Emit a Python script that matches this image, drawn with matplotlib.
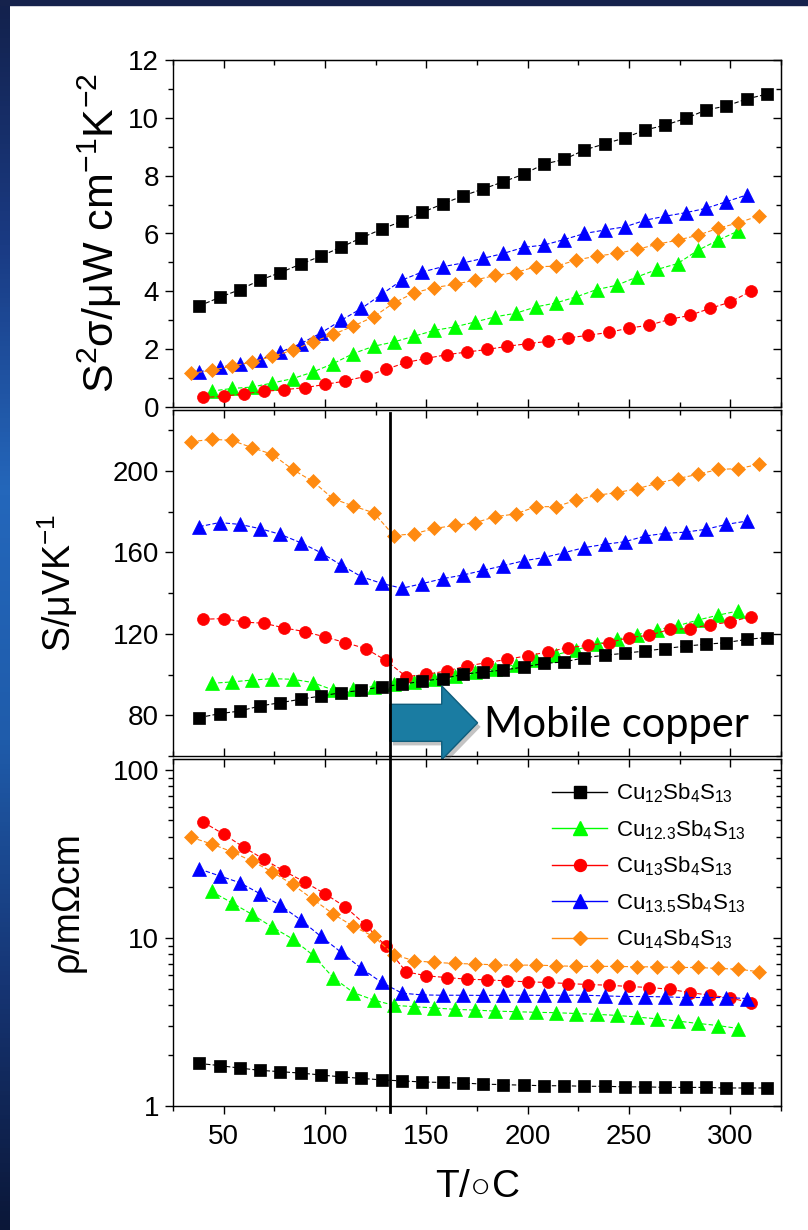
import numpy as np
import matplotlib
matplotlib.use('Agg')
import matplotlib.pyplot as plt
from matplotlib.ticker import MultipleLocator, LogLocator, FuncFormatter, NullFormatter
from matplotlib.patches import FancyArrow, Rectangle
from matplotlib.lines import Line2D
from matplotlib.colors import LinearSegmentedColormap

plt.rcParams['font.family'] = ['Liberation Sans', 'DejaVu Sans']
plt.rcParams['mathtext.fontset'] = 'custom'
plt.rcParams['mathtext.rm'] = 'Liberation Sans'
plt.rcParams['mathtext.it'] = 'Liberation Sans:italic'
plt.rcParams['mathtext.bf'] = 'Liberation Sans:bold'

# temperatures (C) of each sample
t_12 = [38, 48, 58, 68, 78, 88, 98, 108, 118, 128, 138, 148, 158, 168, 178,
        188, 198, 208, 218, 228, 238, 248, 258, 268, 278, 288, 298, 308, 318]
t_123 = [44, 54, 64, 74, 84, 94, 104, 114, 124, 134, 144, 154, 164, 174, 184,
         194, 204, 214, 224, 234, 244, 254, 264, 274, 284, 294, 304]
t_13 = [40, 50, 60, 70, 80, 90, 100, 110, 120, 130, 140, 150, 160, 170, 180,
        190, 200, 210, 220, 230, 240, 250, 260, 270, 280, 290, 300, 310]
t_135 = [38, 48, 58, 68, 78, 88, 98, 108, 118, 128, 138, 148, 158, 168, 178,
         188, 198, 208, 218, 228, 238, 248, 258, 268, 278, 288, 298, 308]
t_14 = [34, 44, 54, 64, 74, 84, 94, 104, 114, 124, 134, 144, 154, 164, 174,
        184, 194, 204, 214, 224, 234, 244, 254, 264, 274, 284, 294, 304, 314]

# power factor S^2 sigma (uW cm-1 K-2)
pf_12 = [3.50, 3.79, 4.06, 4.39, 4.65, 4.94, 5.22, 5.53, 5.85, 6.15, 6.43, 6.73, 7.02, 7.30, 7.54,
         7.79, 8.05, 8.40, 8.56, 8.89, 9.10, 9.31, 9.58, 9.75, 9.98, 10.27, 10.41, 10.65, 10.82]
pf_123 = [0.55, 0.64, 0.69, 0.83, 0.98, 1.21, 1.50, 1.85, 2.10, 2.25, 2.45, 2.65, 2.77, 2.94, 3.12,
          3.24, 3.46, 3.60, 3.81, 4.06, 4.21, 4.50, 4.76, 4.96, 5.42, 5.77, 6.09]
pf_13 = [0.33, 0.37, 0.46, 0.54, 0.60, 0.67, 0.78, 0.90, 1.06, 1.30, 1.54, 1.68, 1.81, 1.90, 1.99,
         2.10, 2.19, 2.27, 2.39, 2.48, 2.58, 2.73, 2.83, 3.03, 3.17, 3.41, 3.63, 4.00]
pf_135 = [1.21, 1.38, 1.48, 1.64, 1.90, 2.19, 2.56, 3.00, 3.41, 3.90, 4.39, 4.67, 4.85, 4.98, 5.14,
          5.31, 5.52, 5.60, 5.79, 6.00, 6.12, 6.23, 6.46, 6.60, 6.72, 6.87, 7.10, 7.33]
pf_14 = [1.16, 1.27, 1.41, 1.56, 1.75, 1.96, 2.25, 2.51, 2.80, 3.12, 3.60, 3.95, 4.13, 4.24, 4.39,
         4.55, 4.65, 4.85, 4.87, 5.08, 5.22, 5.31, 5.45, 5.63, 5.77, 5.94, 6.18, 6.37, 6.61]

# Seebeck coefficient (uV/K)
s_12 = [78.9, 80.8, 82.1, 84.6, 86.2, 87.9, 89.5, 91.1, 92.3, 94.1, 95.2, 96.8, 98.0, 100.1, 101.3,
        102.2, 103.7, 105.5, 106.2, 108.3, 109.5, 110.5, 111.6, 112.8, 114.0, 114.9, 115.7, 117.3, 118.2]
s_123 = [95.7, 96.4, 97.3, 98.0, 97.7, 96.1, 92.4, 93.1, 94.1, 95.2, 96.4, 97.7, 99.3, 101.3, 102.9,
         104.8, 107.0, 109.8, 112.2, 115.0, 117.3, 119.6, 122.0, 124.0, 126.8, 129.2, 131.3]
s_13 = [127.2, 127.5, 125.8, 125.2, 122.9, 121.1, 118.5, 115.7, 112.8, 107.0, 99.0, 100.1, 101.8, 104.2, 105.9,
        107.5, 109.3, 111.1, 113.3, 114.4, 115.7, 118.2, 119.3, 122.2, 122.6, 124.5, 125.8, 128.5]
s_135 = [172.7, 174.7, 173.8, 171.7, 168.9, 164.8, 159.9, 153.8, 148.1, 144.8, 142.4, 144.7, 147.1, 148.9, 151.2,
         153.5, 155.9, 157.5, 159.9, 162.4, 164.0, 165.3, 168.1, 169.4, 170.0, 171.4, 173.8, 175.4]
s_14 = [214.4, 215.6, 215.1, 211.5, 208.2, 200.8, 194.9, 186.4, 182.8, 179.5, 168.3, 169.2, 171.8, 173.3, 174.6,
        177.6, 178.9, 182.5, 182.5, 185.7, 188.1, 189.4, 191.3, 194.0, 196.3, 198.4, 200.8, 201.2, 203.3]

# resistivity (mOhm cm)
rho_12 = [1.79, 1.74, 1.68, 1.63, 1.60, 1.57, 1.53, 1.49, 1.46, 1.43, 1.41, 1.39, 1.38, 1.37, 1.35,
          1.34, 1.33, 1.32, 1.32, 1.31, 1.31, 1.30, 1.30, 1.29, 1.29, 1.29, 1.28, 1.28, 1.28]
rho_123 = [18.9, 16.2, 13.8, 11.6, 9.86, 7.91, 5.81, 4.73, 4.27, 3.97, 3.90, 3.83, 3.76, 3.72, 3.67,
           3.64, 3.61, 3.59, 3.55, 3.51, 3.46, 3.38, 3.30, 3.20, 3.10, 3.01, 2.89]
rho_13 = [48.8, 41.4, 34.6, 29.3, 24.9, 21.5, 18.3, 15.3, 11.96, 8.92, 6.29, 5.95, 5.81, 5.68, 5.63,
          5.55, 5.48, 5.43, 5.35, 5.28, 5.23, 5.14, 5.07, 4.95, 4.73, 4.56, 4.39, 4.12]
rho_135 = [25.7, 23.4, 21.3, 18.3, 15.6, 12.8, 10.2, 8.21, 6.58, 5.43, 4.69, 4.58, 4.56, 4.56, 4.55,
           4.56, 4.56, 4.55, 4.56, 4.56, 4.52, 4.48, 4.48, 4.46, 4.42, 4.42, 4.42, 4.36]
rho_14 = [39.7, 36.2, 32.6, 28.6, 24.7, 20.8, 17.0, 13.9, 11.7, 10.2, 7.95, 7.31, 7.15, 7.05, 6.99,
          6.92, 6.89, 6.89, 6.83, 6.77, 6.77, 6.77, 6.73, 6.73, 6.67, 6.67, 6.58, 6.52, 6.29]

labels = ['Cu$_{12}$Sb$_4$S$_{13}$', 'Cu$_{12.3}$Sb$_4$S$_{13}$', 'Cu$_{13}$Sb$_4$S$_{13}$',
          'Cu$_{13.5}$Sb$_4$S$_{13}$', 'Cu$_{14}$Sb$_4$S$_{13}$']
temps = [t_12, t_123, t_13, t_135, t_14]
pfs = [pf_12, pf_123, pf_13, pf_135, pf_14]
seebeck = [s_12, s_123, s_13, s_135, s_14]
rhos = [rho_12, rho_123, rho_13, rho_135, rho_14]
colors = ['#000000', '#00ff00', '#ff0000', '#0000ff', '#ff8a10']
markers = ['s', '^', 'o', '^', 'D']
msizes = [8, 9.4, 8.6, 9.4, 6.8]
zorders = [5, 3, 3.2, 3.4, 3.6]

T_TRANSITION = 132

fig = plt.figure(figsize=(8.08, 12.30), dpi=100)
W, H = 808, 1230

# slide background strips
strip = fig.add_axes([0, 0, 10 / W, 1])
grad = np.linspace(0, 1, 256).reshape(-1, 1)
slide = LinearSegmentedColormap.from_list('slide', ['#13214c', '#1a3b84', '#2467bb', '#1f5cab', '#163574', '#0b1738'])
strip.imshow(grad, aspect='auto', cmap=slide, extent=[0, 1, 0, 1], origin='upper')
strip.axis('off')
fig.patches.append(Rectangle((0, 1 - 5 / H), 1, 5 / H, transform=fig.transFigure,
                             color='#15224c', zorder=0))


def px_axes(x0, y0, x1, y1):
    return fig.add_axes([x0 / W, 1 - y1 / H, (x1 - x0) / W, (y1 - y0) / H])


ax1 = px_axes(173, 60, 781, 407)
ax2 = px_axes(173, 410, 781, 756)
ax3 = px_axes(173, 759, 781, 1106)

for i in range(5):
    for ax, y in ((ax1, pfs[i]), (ax2, seebeck[i]), (ax3, rhos[i])):
        ax.plot(temps[i], y, color=colors[i], marker=markers[i], ms=msizes[i],
                mec=colors[i], mew=0.5, lw=0.8, ls=(0, (4, 2)), zorder=zorders[i])


def frame(ax, bottom_out):
    ax.set_xlim(25, 325)
    ax.xaxis.set_major_locator(MultipleLocator(50))
    ax.xaxis.set_minor_locator(MultipleLocator(25))
    ax.tick_params(which='both', labelsize=20, width=1, colors='k', pad=4)
    ax.tick_params(axis='y', which='both', direction='out')
    ax.tick_params(axis='x', which='both', direction='out' if bottom_out else 'in')
    ax.tick_params(which='major', length=6)
    ax.tick_params(which='minor', length=3.5)
    for sp in ax.spines.values():
        sp.set_linewidth(1)
    top = ax.secondary_xaxis('top')
    top.xaxis.set_major_locator(MultipleLocator(50))
    top.xaxis.set_minor_locator(MultipleLocator(25))
    top.tick_params(which='both', direction='in', labeltop=False, width=1)
    top.tick_params(which='major', length=6)
    top.tick_params(which='minor', length=3.5)
    return top


frame(ax1, False)
frame(ax2, False)
frame(ax3, True)
ax1.tick_params(labelbottom=False)
ax2.tick_params(labelbottom=False)
ax3.tick_params(axis='x', pad=7)

ax1.set_ylim(0, 12)
ax1.yaxis.set_major_locator(MultipleLocator(2))
ax1.yaxis.set_minor_locator(MultipleLocator(1))
ax2.set_ylim(60, 230)
ax2.yaxis.set_major_locator(MultipleLocator(40))
ax2.yaxis.set_minor_locator(MultipleLocator(20))
ax3.set_yscale('log')
ax3.set_ylim(1, 116)
ax3.yaxis.set_major_locator(LogLocator(base=10))
ax3.yaxis.set_minor_locator(LogLocator(base=10, subs=np.arange(2, 10)))
ax3.yaxis.set_major_formatter(FuncFormatter(lambda v, p: f'{v:g}'))
ax3.yaxis.set_minor_formatter(NullFormatter())

for ax in (ax1, ax2, ax3):
    right = ax.secondary_yaxis('right')
    right.tick_params(which='both', direction='in', labelright=False, width=1)
    right.tick_params(which='major', length=6)
    right.tick_params(which='minor', length=3.5)
    if ax is ax3:
        right.yaxis.set_minor_locator(LogLocator(base=10, subs=np.arange(2, 10)))
        right.yaxis.set_minor_formatter(NullFormatter())
    else:
        right.yaxis.set_major_locator(ax.yaxis.get_major_locator())
        right.yaxis.set_minor_locator(ax.yaxis.get_minor_locator())

# axis labels
ax1.set_ylabel('S$^2$σ/μW cm$^{-1}$K$^{-2}$', fontsize=31)
ax1.yaxis.set_label_coords((100 - 173) / 608, 0.5)
ax2.set_ylabel('S/μVK$^{-1}$', fontsize=27)
ax2.yaxis.set_label_coords((58 - 173) / 608, 0.5)
ax3.set_ylabel('ρ/mΩcm', fontsize=27)
ax3.yaxis.set_label_coords((68 - 173) / 608, 0.588)
for ax in (ax1, ax2, ax3):
    ax.yaxis.label.set_va('center')
ax3.set_xlabel(r'T/$\!\circ\!$C', fontsize=28)
ax3.xaxis.set_label_coords(0.5, -0.233)
ax3.xaxis.label.set_va('center')

# transition line
ax2.axvline(T_TRANSITION, ymin=0, ymax=0.99, color='k', lw=2, zorder=8)
ax3.axvline(T_TRANSITION, ymin=-0.018, ymax=1.01, color='k', lw=2, zorder=8, clip_on=False)

# "Mobile copper" arrow
shadow = FancyArrow(T_TRANSITION + 1.5, 74.3, 43.3, 0, width=18.2, head_width=36.3, head_length=17.7,
                    length_includes_head=True, color='#555555', alpha=0.35, lw=0, clip_on=False, zorder=6)
ax2.add_patch(shadow)
arrow = FancyArrow(T_TRANSITION, 76.3, 43.3, 0, width=18.2, head_width=36.3, head_length=17.7,
                   length_includes_head=True, fc='#1a7ca2', ec='#0f5d7c', lw=1, clip_on=False, zorder=7)
ax2.add_patch(arrow)
ax2.text(178.4, 69.2, 'Mobile copper', fontsize=30, family=['Lato', 'DejaVu Sans'],
         va='baseline', ha='left', zorder=9)

# legend
handles = [Line2D([], [], color=colors[i], marker=markers[i], ms=msizes[i], mec=colors[i], lw=1)
           for i in range(5)]
ax3.legend(handles, labels, loc='upper left', bbox_to_anchor=(0.623, 0.935), frameon=False,
           fontsize=16, handlelength=2.5, handletextpad=0.4, labelspacing=0.58,
           borderpad=0, borderaxespad=0)

fig.savefig('out.png', dpi=100)
